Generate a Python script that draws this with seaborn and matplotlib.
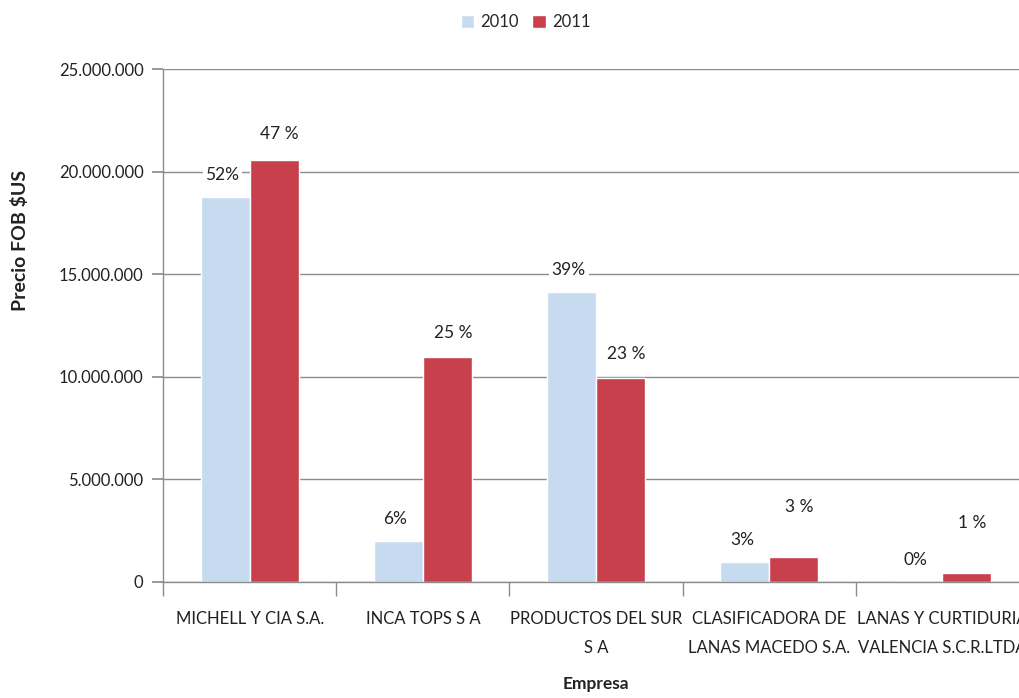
import matplotlib
matplotlib.use("Agg")
import matplotlib.pyplot as plt
import seaborn as sns
import pandas as pd
from matplotlib.ticker import FuncFormatter, FixedLocator

empresas = ["MICHELL Y CIA S.A.", "INCA TOPS S A", "PRODUCTOS DEL SUR\nS A",
            "CLASIFICADORA DE\nLANAS MACEDO S.A.", "LANAS Y CURTIDURIA\nVALENCIA S.C.R.LTDA"]
valores_2010 = [18760000, 2000000, 14130000, 970000, 0]
valores_2011 = [20570000, 10960000, 9940000, 1220000, 440000]
pct_2010 = ["52%", "6%", "39%", "3%", "0%"]
pct_2011 = ["47 %", "25 %", "23 %", "3 %", "1 %"]
anios = ["2010", "2011"]

df = pd.DataFrame({
    "Empresa": empresas * 2,
    "Año": [anios[0]] * len(empresas) + [anios[1]] * len(empresas),
    "Valor": valores_2010 + valores_2011,
})

sns.set_theme(style="white")
plt.rcParams["font.family"] = ["Lato", "DejaVu Sans"]

fig = plt.figure(figsize=(10.19, 6.98), dpi=100)
ax = fig.add_axes([0.16, 0.1662, 0.8498, 0.7349])

palette = {"2010": "#C6DBEF", "2011": "#C9404D"}
sns.barplot(data=df, x="Empresa", y="Valor", hue="Año", palette=palette,
            width=0.567, ax=ax, saturation=1, legend=True)

ax.set_xlim(-0.5, 4.5)
ax.set_ylim(0, 25000000)
ax.set_yticks(range(0, 25000001, 5000000))
ax.yaxis.set_major_formatter(FuncFormatter(lambda v, p: f"{int(v):,}".replace(",", ".")))
ax.grid(axis="y", color="#8C8C8C", linewidth=1.0)
ax.set_axisbelow(True)

for s in ["top", "right"]:
    ax.spines[s].set_visible(False)
for s in ["left", "bottom"]:
    ax.spines[s].set_color("#8C8C8C")
    ax.spines[s].set_linewidth(1.0)

ax.tick_params(axis="y", which="major", left=True, length=8, color="#8C8C8C",
               labelsize=12, labelcolor="#222222", pad=6)
ax.tick_params(axis="x", which="major", bottom=False, labelsize=12,
               labelcolor="#222222", pad=15)
ax.xaxis.set_minor_locator(FixedLocator([-0.5, 0.5, 1.5, 2.5, 3.5, 4.5]))
ax.tick_params(axis="x", which="minor", bottom=True, length=10, color="#8C8C8C")
for lab in ax.get_xticklabels():
    lab.set_linespacing(1.95)
    lab.set_verticalalignment("top")

ax.set_xlabel("Empresa", fontsize=12.5, fontweight="bold", labelpad=15, color="#222222")
ax.set_ylabel("Precio FOB $US", fontsize=14, fontweight="bold", color="#222222")
ax.yaxis.set_label_coords(-0.155, 0.665)

# percentage labels: bars sorted by x alternate 2010 / 2011 per company
bars = sorted([p for p in ax.patches if p.get_width() > 0], key=lambda p: p.get_x())
bars_2010 = bars[0::2]
bars_2011 = bars[1::2]
offsets_2011 = [19, 17, 17, 36, 36]
bbox = dict(facecolor="white", edgecolor="none", pad=2)
for i, bar in enumerate(bars_2010):
    ax.annotate(pct_2010[i], (bar.get_x() + bar.get_width() / 2, bar.get_height()),
                xytext=(-2, 16), textcoords="offset points", ha="center", va="center",
                fontsize=12.5, color="#222222", bbox=bbox)
for i, bar in enumerate(bars_2011):
    ax.annotate(pct_2011[i], (bar.get_x() + bar.get_width() / 2, bar.get_height()),
                xytext=(4, offsets_2011[i]), textcoords="offset points", ha="center",
                va="center", fontsize=12.5, color="#222222", bbox=bbox)

leg = ax.get_legend()
handles, labels = ax.get_legend_handles_labels()
leg.remove()
fig.legend(handles, labels, loc="center", bbox_to_anchor=(0.516, 0.968), ncol=2,
           frameon=False, fontsize=12, handlelength=0.8, handleheight=0.8,
           handletextpad=0.4, columnspacing=0.8)

fig.savefig("out.png", dpi=100)
